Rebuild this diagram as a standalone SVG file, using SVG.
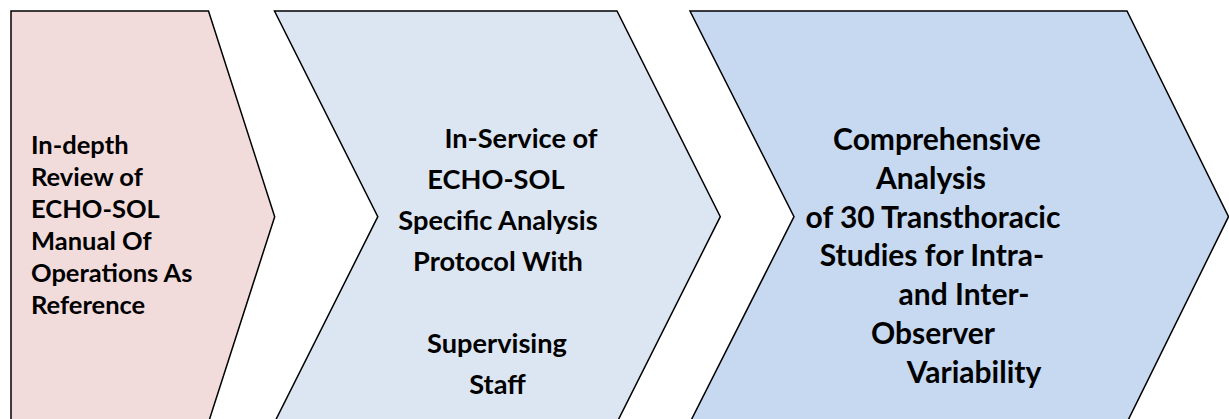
<svg xmlns="http://www.w3.org/2000/svg" width="1229" height="419" viewBox="0 0 1229 419">
<style>
.shape{stroke:#000;stroke-width:1.5;stroke-linejoin:miter}
.s1{fill:#F2DCDB}
.s2{fill:#DCE6F2}
.s3{fill:#C6D9F1}
.t{font-family:Lato,"Liberation Sans",sans-serif;font-weight:700;fill:#000}
.f1{font-size:25.5px}
.f2{font-size:27.2px;text-anchor:middle}
.f3{font-size:30px;text-anchor:middle}
</style>
<rect width="1229" height="419" fill="#fff"/>
<g id="step1">
<polygon class="shape s1" points="11,11 208.5,11 274.7,216.7 208.5,422.4 11,422.4"/>
<text class="t f1" x="31" y="154">In-depth</text>
<text class="t f1" x="31" y="186">Review of</text>
<text class="t f1" x="31" y="218">ECHO-SOL</text>
<text class="t f1" x="31" y="250">Manual Of</text>
<text class="t f1" x="31" y="282">Operations As</text>
<text class="t f1" x="31" y="314">Reference</text>
</g>
<g id="step2">
<polygon class="shape s2" points="274.5,11 617,11 720.3,216.7 617,422.4 274.5,422.4 377.8,216.7"/>
<text class="t f2" x="521" y="148">In-Service of</text>
<text class="t f2" x="496" y="189">ECHO-SOL</text>
<text class="t f2" x="498" y="230">Specific Analysis</text>
<text class="t f2" x="498" y="271">Protocol With</text>
<text class="t f2" x="497" y="353">Supervising</text>
<text class="t f2" x="497.5" y="394">Staff</text>
</g>
<g id="step3">
<polygon class="shape s3" points="690,11 1127,11 1228.5,216.7 1127,422.4 690,422.4 794,216.7"/>
<text class="t f3" x="937" y="150">Comprehensive</text>
<text class="t f3" x="931" y="189">Analysis</text>
<text class="t f3" x="933" y="228">of 30 Transthoracic</text>
<text class="t f3" x="932" y="266">Studies for Intra-</text>
<text class="t f3" x="964" y="305">and Inter-</text>
<text class="t f3" x="933" y="344">Observer</text>
<text class="t f3" x="974" y="383">Variability</text>
</g>
<g id="connectors"/>
</svg>
